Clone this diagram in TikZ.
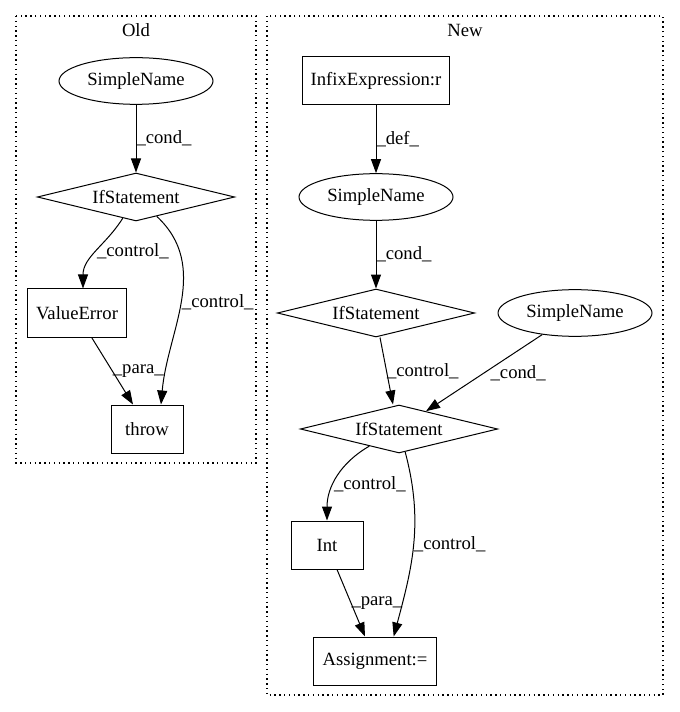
\documentclass[tikz,border=0pt]{standalone}
\usepackage{fontspec}
\setmainfont{Liberation Serif}
\usetikzlibrary{shapes.geometric,arrows.meta}
\begin{document}
\begin{tikzpicture}[x=0.75pt, y=0.75pt, font=\fontsize{14pt}{17pt}\selectfont,
		sname/.style={ellipse,draw,line width=0.75pt,minimum width=115.5pt,minimum height=35pt,inner sep=0pt},
		ifst/.style={diamond,draw,line width=0.75pt,shape aspect=4,minimum width=148pt,minimum height=36pt,inner sep=0pt},
		stmt/.style={rectangle,draw,line width=0.75pt,minimum width=54pt,minimum height=36pt,inner xsep=6.5pt},
		elab/.style={anchor=west,inner sep=0pt},
		flow/.style={line width=0.75pt,-{Triangle[length=10.5pt,width=7.5pt]}},
		clus/.style={line width=1pt,dash pattern=on 1pt off 2.6pt}]
		\useasboundingbox (0,0) rectangle (679,-712);
		% Old
		\draw[clus] (16,-16) rectangle (256,-463);
		\node (old) at (136,-30) {Old};
		\node[sname] (osn) at (136,-81) {SimpleName};
		\node[ifst] (oif) at (136,-197) {IfStatement};
		\node[stmt] (verr) at (77,-313) {ValueError};
		\node[stmt] (thr) at (147,-429) {throw};
		\draw[flow] (osn) -- node[elab] {\_cond\_} (oif);
		\draw[flow] (oif) to [out=-122,in=90] node[elab] {\_control\_} ([xshift=4.5pt]verr.north);
		\draw[flow] (oif) to [out=-43,in=85] node[elab] {\_control\_} ([xshift=10.5pt]thr.north);
		\draw[flow] ([xshift=11pt]verr.south) -- node[elab] {\_para\_} ([xshift=-10.5pt]thr.north);
		% New
		\draw[clus] (267,-16) rectangle (663,-695);
		\node (new) at (465,-30) {New};
		\node[stmt] (infix) at (376,-81) {InfixExpression:r};
		\node[sname] (nsn) at (376,-197) {SimpleName};
		\node[ifst] (nif) at (376,-313) {IfStatement};
		\node[sname] (csn) at (575,-313) {SimpleName};
		\node[ifst] (cif) at (399,-429) {IfStatement};
		\node[stmt] (int) at (327,-545) {Int};
		\node[stmt] (asg) at (375,-661) {Assignment:=};
		\draw[flow] (infix) -- node[elab] {\_def\_} (nsn);
		\draw[flow] (nsn) -- node[elab] {\_cond\_} (nif);
		\draw[flow] ([xshift=3pt]nif.south) -- node[elab] {\_control\_} ([xshift=-4.5pt]cif.north);
		\draw[flow] (csn) -- node[elab,xshift=4.5pt] {\_cond\_} (cif);
		\draw[flow] (cif) to [out=-150,in=90] node[elab,pos=0.6] {\_control\_} (int);
		\draw[flow] (cif) to [out=-75,in=75] node[elab] {\_control\_} ([xshift=14pt]asg.north);
		\draw[flow] ([xshift=7.5pt]int.south) -- node[elab] {\_para\_} ([xshift=-7.5pt]asg.north);
\end{tikzpicture}
\end{document}
